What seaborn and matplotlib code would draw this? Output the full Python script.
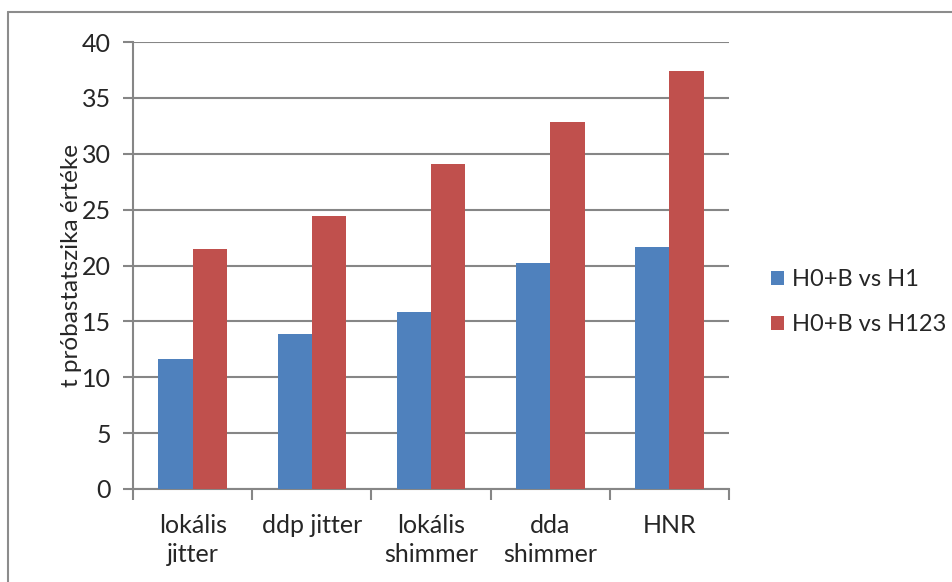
import matplotlib
matplotlib.use("Agg")
import matplotlib.pyplot as plt
from matplotlib.lines import Line2D
import seaborn as sns
import pandas as pd

categories = ["lokális\njitter", "ddp jitter", "lokális\nshimmer", "dda\nshimmer", "HNR"]
series_names = ["H0+B vs H1", "H0+B vs H123"]
h1_values = [11.6, 13.9, 15.8, 20.2, 21.7]
h123_values = [21.5, 24.4, 29.1, 32.8, 37.4]
y_ticks = [0, 5, 10, 15, 20, 25, 30, 35, 40]
y_label = "t próbastatszika értéke"

df = pd.DataFrame({
    "category": categories * 2,
    "series": [series_names[0]] * len(categories) + [series_names[1]] * len(categories),
    "value": h1_values + h123_values,
})

sns.set_theme(style="white")
plt.rcParams["font.family"] = ["Lato", "DejaVu Sans"]

fig = plt.figure(figsize=(9.53, 5.82), dpi=100)
ax = fig.add_axes([0.1396, 0.1598, 0.765 - 0.1396, 0.9278 - 0.1598])

palette = {series_names[0]: "#4F81BD", series_names[1]: "#C0504D"}
sns.barplot(data=df, x="category", y="value", hue="series", palette=palette,
            width=0.575, gap=0, saturation=1, ax=ax, legend=True, zorder=3)
for p in ax.patches:
    p.set_linewidth(0)

grid_color = "#868686"
ax.set_ylim(0, 40)
ax.set_xlim(-0.5, len(categories) - 0.5)
ax.set_yticks(y_ticks)
ax.yaxis.grid(True, color=grid_color, linewidth=1.5, zorder=0)
ax.set_axisbelow(True)
for s in ["top", "right"]:
    ax.spines[s].set_visible(False)
for s in ["left", "bottom"]:
    ax.spines[s].set_color(grid_color)
    ax.spines[s].set_linewidth(1.5)

# category boundary ticks on x, labels at centres
ax.set_xticks([i - 0.5 for i in range(len(categories) + 1)], minor=False)
ax.set_xticklabels([])
ax.set_xticks(range(len(categories)), minor=True)
ax.set_xticklabels(categories, minor=True, fontsize=18, linespacing=1.3)
ax.tick_params(axis="x", which="major", length=8, width=1.5, color=grid_color, direction="out", bottom=True)
ax.tick_params(axis="x", which="minor", length=0, pad=18)
ax.tick_params(axis="y", length=7, width=1.5, color=grid_color, direction="out", left=True,
               labelsize=18, pad=9)
for lbl in ax.get_xticklabels(minor=True):
    lbl.set_verticalalignment("top")

ax.set_xlabel("")
ax.set_ylabel(y_label, fontsize=17.5, labelpad=0)

leg = ax.legend(loc="center left", bbox_to_anchor=(1.055, 0.418), frameon=False,
                fontsize=17, handlelength=0.55, handleheight=0.55, handletextpad=0.34,
                labelspacing=1.0, borderaxespad=0)

# outer chart frame (top and left edges)
fig.add_artist(Line2D([8 / 953, 952 / 953], [1 - 11.5 / 582, 1 - 11.5 / 582],
                      transform=fig.transFigure, color="#8c8c8c", linewidth=1.5))
fig.add_artist(Line2D([8.5 / 953, 8.5 / 953], [0, 1 - 11.5 / 582],
                      transform=fig.transFigure, color="#8c8c8c", linewidth=1.5))

fig.savefig("out.png", dpi=100)
